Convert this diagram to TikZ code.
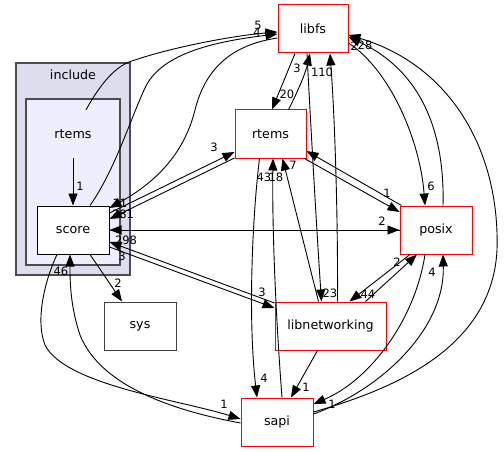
\documentclass[tikz,border=0pt]{standalone}
\usepackage{fontspec}
\setmainfont{DejaVu Sans}
\usetikzlibrary{arrows.meta,calc}
\definecolor{clA}{HTML}{DDDDEE}
\definecolor{clB}{HTML}{EEEEFF}
\tikzset{
  dnode/.style={draw=red, fill=white, line width=1pt, minimum height=48pt, inner sep=0pt, font=\fontsize{12.7}{14}\selectfont},
  bnode/.style={dnode, draw=black},
  gnode/.style={dnode, draw=black!75},
  lab/.style={inner sep=0pt, font=\fontsize{11.5}{12}\selectfont},
  edge/.style={line width=0.9pt, -{Triangle[length=12pt,width=9pt]}},
  clus/.style={draw=black!70, line width=1.4pt}
}
\begin{document}
\begin{tikzpicture}[x=1pt,y=-1pt]
\useasboundingbox (0,0) rectangle (504,452);
% clusters
\draw[clus, fill=clA] (16,63) rectangle (130,275);
\node[lab, font=\fontsize{12.7}{14}\selectfont] (inclab) at (73,75) {include};
\draw[clus, fill=clB] (26,99) rectangle (120,265);
\node[inner sep=0pt, minimum height=48pt, minimum width=60pt, font=\fontsize{12.7}{14}\selectfont] (rtL) at (73,134) {rtems};
% nodes
\node[bnode, minimum width=72pt] (score) at (73,230) {score};
\node[gnode, minimum width=72pt] (sys) at (140,326) {sys};
\node[dnode, minimum width=70pt] (libfs) at (313,29) {libfs};
\node[dnode, minimum width=71pt] (rtm) at (270.5,134) {rtems};
\node[dnode, minimum width=72pt] (posix) at (436,230) {posix};
\node[dnode, minimum width=111pt] (libnet) at (330.5,326) {libnetworking};
\node[dnode, minimum width=72pt] (sapi) at (277,422) {sapi};
% edges
\draw[edge] (rtL.south) -- (score.north) node[lab] at (80,186) {1};
\draw[edge] ($(rtL.north)+(13,0)$) .. controls (100,85) and (115,65) .. (135,60) .. controls (170,48) and (230,36) .. ($(libfs.west)+(0,3)$) node[lab] at (258,25) {5};
\draw[edge] ($(score.north)+(17,0)$) .. controls (115,170) and (130,120) .. (145,88) .. controls (160,55) and (210,42) .. ($(libfs.west)+(0,5)$) node[lab] at (257,32) {4};
\draw[edge] ($(libfs.west)+(0,9)$) .. controls (230,45) and (205,70) .. (195,110) .. controls (185,150) and (160,180) .. ($(score.east)+(0,-22)$) node[lab] at (120,203) {11};
\draw[edge] ($(score.east)+(0,-17)$) -- ($(rtm.west)+(0,18)$) node[lab] at (214,147) {3};
\draw[edge] ($(rtm.west)+(0,24)$) -- ($(score.east)+(0,-11)$) node[lab] at (123,214) {381};
\draw[edge] (score.east) -- (posix.west) node[lab] at (382,221) {2};
\draw[edge] (posix.west) -- (score.east) node[lab] at (126,240) {298};
\draw[edge] ($(libnet.west)+(0,-23)$) -- ($(score.east)+(0,12)$) node[lab] at (122,256) {3};
\draw[edge] ($(score.east)+(0,17)$) -- ($(libnet.west)+(0,-18)$) node[lab] at (262,292) {3};
\draw[edge] ($(score.south)+(17,0)$) -- ($(sys.north)+(-18,0)$) node[lab] at (118,283) {2};
\draw[edge] ($(score.south)+(-16,0)$) .. controls (45,280) and (35,320) .. (45,345) .. controls (65,385) and (180,400) .. ($(sapi.west)+(0,-3)$) node[lab] at (224,404) {1};
\draw[edge] ($(sapi.west)+(0,1)$) .. controls (170,410) and (100,385) .. (80,335) .. controls (70,305) and (70,280) .. ($(score.south)+(-3,0)$) node[lab] at (61,271) {46};
\draw[edge] ($(libfs.south)+(-18,0)$) -- ($(rtm.north)+(1.5,0)$) node[lab] at (287,94) {20};
\draw[edge] ($(rtm.north)+(18,0)$) .. controls (296,95) and (305,75) .. ($(libfs.south)+(-3,0)$) node[lab] at (297,68) {3};
\draw[edge] ($(libfs.south)+(-6,0)$) .. controls (312,150) and (318,250) .. ($(libnet.north)+(-9,0)$) node[lab] at (330,293) {23};
\draw[edge] ($(libnet.north)+(7,0)$) .. controls (338,220) and (335,120) .. ($(libfs.south)+(17,0)$) node[lab] at (322,72) {110};
\draw[edge] ($(libfs.east)+(0,14)$) .. controls (390,70) and (420,140) .. ($(posix.north)+(-11,0)$) node[lab] at (431,186) {6};
\draw[edge] ($(posix.north)+(7,0)$) .. controls (445,130) and (420,70) .. ($(libfs.east)+(0,8)$) node[lab] at (354,46) {2};
\draw[edge] ($(sapi.east)+(0,-10)$) .. controls (390,390) and (492,350) .. (497,250) .. controls (500,150) and (450,65) .. ($(libfs.east)+(0,6)$) node[lab] at (365,45) {28};
\draw[edge] ($(rtm.south east)+(-2,0)$) -- ($(posix.west)+(0,-18)$) node[lab] at (387,193) {1};
\draw[edge] ($(posix.north west)+(2,0)$) -- ($(rtm.east)+(0,17)$) node[lab] at (293,165) {7};
\draw[edge] ($(rtm.south)+(-11,0)$) .. controls (252,220) and (248,320) .. ($(sapi.north)+(-20,0)$) node[lab] at (264,378) {4};
\draw[edge] ($(sapi.north)+(5,0)$) .. controls (276,320) and (272,230) .. ($(rtm.south)+(2.5,0)$) node[lab] at (264,177) {43};
\draw[edge] ($(libnet.north)+(-12,0)$) -- ($(rtm.south)+(12,0)$) node[lab] at (276,177) {18};
\draw[edge] ($(libnet.south)+(-13,0)$) -- ($(sapi.north)+(14,0)$) node[lab] at (306,387) {1};
\draw[edge] ($(libnet.north)+(35,0)$) -- ($(posix.south)+(-19,0)$) node[lab] at (397,262) {2};
\draw[edge] ($(posix.south)+(-26,0)$) -- ($(libnet.north)+(19,0)$) node[lab] at (368,294) {44};
\draw[edge] ($(posix.south)+(-11,0)$) .. controls (415,320) and (370,380) .. ($(sapi.east)+(0,-18)$) node[lab] at (332,404) {1};
\draw[edge] ($(sapi.east)+(0,-8)$) .. controls (380,390) and (445,330) .. ($(posix.south)+(7,0)$) node[lab] at (432,272) {4};
\end{tikzpicture}
\end{document}
